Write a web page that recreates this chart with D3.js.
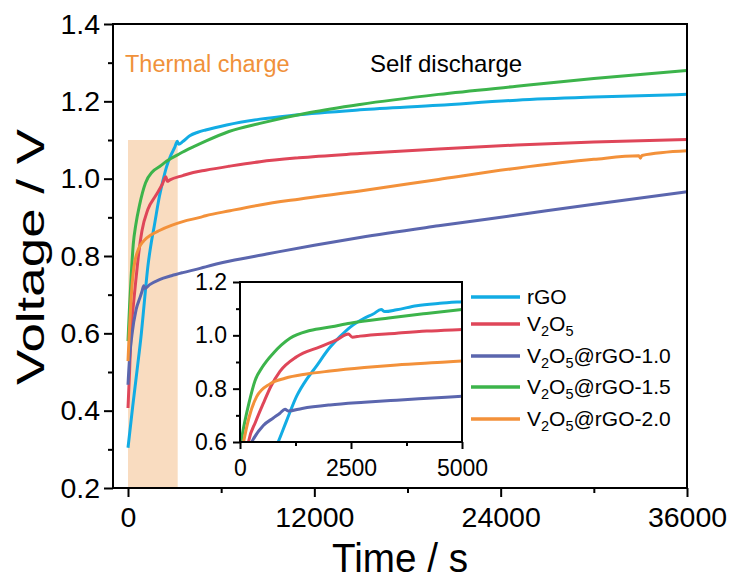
<!DOCTYPE html>
<html>
<head>
<meta charset="utf-8">
<script src="https://cdn.jsdelivr.net/npm/d3@7"></script>
<style>
  body { margin: 0; background: #fff; }
  text { font-family: "Liberation Sans", Arial, sans-serif; }
</style>
</head>
<body>
<svg id="chart" width="732" height="583"></svg>
<script>
// Voltage (V) against time (s) for each electrode: [time, voltage]
const rGO = [[0,0.304],[300,0.41],[600,0.51],[860,0.6],[1050,0.68],[1276,0.772],[1500,0.835],[1680,0.875],[2027,0.955],[2250,0.995],[2477,1.03],[2777,1.062],[3000,1.08],[3180,1.097],[3260,1.089],[3529,1.096],[3979,1.111],[4500,1.12],[5000,1.126],[6355,1.139],[8500,1.154],[10650,1.164],[14940,1.178],[20000,1.19],[25030,1.203],[30000,1.211],[36000,1.218]];
const V2O5 = [[0,0.407],[100,0.5],[190,0.6],[350,0.675],[525,0.745],[700,0.81],[900,0.865],[1276,0.92],[1800,0.957],[2200,0.985],[2440,1.005],[2530,0.993],[2700,0.997],[3529,1.008],[4207,1.016],[5000,1.022],[6500,1.032],[8500,1.044],[11000,1.054],[14940,1.065],[20000,1.077],[25030,1.087],[30000,1.095],[36000,1.101]];
const V2O5_rGO_10 = [[0,0.467],[100,0.535],[250,0.595],[525,0.662],[750,0.69],[900,0.708],[1014,0.723],[1089,0.716],[1400,0.726],[2027,0.739],[2800,0.749],[3529,0.757],[4640,0.768],[5000,0.772],[6570,0.787],[8930,0.805],[12000,0.828],[14940,0.848],[20000,0.878],[25030,0.906],[30000,0.934],[36000,0.966]];
const V2O5_rGO_15 = [[0,0.58],[100,0.67],[200,0.745],[338,0.83],[500,0.88],[750,0.933],[1126,0.989],[1577,1.018],[2061,1.032],[2477,1.045],[3349,1.065],[4200,1.082],[5000,1.097],[6500,1.122],[8500,1.143],[11720,1.171],[14940,1.192],[20000,1.218],[25030,1.239],[30000,1.259],[36000,1.28]];
const V2O5_rGO_20 = [[0,0.528],[80,0.6],[200,0.69],[376,0.77],[676,0.818],[1014,0.839],[1500,0.855],[2027,0.866],[2800,0.879],[3529,0.889],[4640,0.9],[5000,0.904],[6570,0.917],[8500,0.932],[11000,0.947],[14940,0.968],[20000,0.998],[25030,1.027],[30000,1.05],[32900,1.059],[33000,1.053],[33100,1.06],[36000,1.072]];

const seriesData = [rGO, V2O5, V2O5_rGO_10, V2O5_rGO_15, V2O5_rGO_20];
const seriesNames = ["rGO", "V2O5", "V2O5@rGO-1.0", "V2O5@rGO-1.5", "V2O5@rGO-2.0"];
const seriesColors = ["#12ace4", "#df4659", "#5b66ae", "#3cb44b", "#f3913a"];

// Axis ticks
const mainXTicks = [0, 12000, 24000, 36000];
const mainXMinor = [6000, 18000, 30000];
const mainYTicks = [0.2, 0.4, 0.6, 0.8, 1.0, 1.2, 1.4];
const mainYMinor = [0.3, 0.5, 0.7, 0.9, 1.1, 1.3];
const insetXTicks = [0, 2500, 5000];
const insetXMinor = [1250, 3750];
const insetYTicks = [0.6, 0.8, 1.0, 1.2];
const insetYMinor = [0.7, 0.9, 1.1];

// Thermal-charge window: [start time, end time, top voltage]
const thermalWindow = [0, 3200, 1.1];

const svg = d3.select("#chart");
const mainX = d3.scaleLinear().domain([-966, 36000]).range([113, 687]);
const mainY = d3.scaleLinear().domain([0.2, 1.4]).range([488, 24]);
const insetX = d3.scaleLinear().domain([0, 5000]).range([240, 462]);
const insetY = d3.scaleLinear().domain([0.6, 1.2]).range([442, 282]);

const defs = svg.append("defs");
defs.append("clipPath").attr("id", "clipMain").append("rect")
  .attr("x", 113).attr("y", 24).attr("width", 574).attr("height", 464);
defs.append("clipPath").attr("id", "clipInset").append("rect")
  .attr("x", 240).attr("y", 282).attr("width", 222).attr("height", 160);

// Shaded thermal-charge window
svg.append("rect")
  .attr("x", mainX(thermalWindow[0]))
  .attr("y", mainY(thermalWindow[2]))
  .attr("width", mainX(thermalWindow[1]) - mainX(thermalWindow[0]))
  .attr("height", mainY(0.2) - mainY(thermalWindow[2]))
  .attr("fill", "#f9dcc0");

function drawLines(g, xs, ys, clip, width) {
  const line = d3.line().x(d => xs(d[0])).y(d => ys(d[1])).curve(d3.curveMonotoneX);
  g.append("g").attr("clip-path", `url(#${clip})`)
    .selectAll("path").data(seriesData).join("path")
    .attr("d", line)
    .attr("fill", "none")
    .attr("stroke", (d, i) => seriesColors[i])
    .attr("stroke-width", width)
    .attr("stroke-linejoin", "round");
}

function styleAxis(g, fontSize) {
  g.select(".domain").remove();
  g.selectAll(".tick line").attr("stroke", "#000").attr("stroke-width", 2);
  g.selectAll(".tick text").attr("fill", "#000").attr("font-size", fontSize)
    .style("font-family", '"Liberation Sans", Arial, sans-serif');
}

function drawAxes(xs, ys, xt, xm, yt, ym, opt) {
  const [x0, x1] = xs.range();
  const [y0, y1] = ys.range();
  const gx = svg.append("g").attr("transform", `translate(0,${y0})`)
    .call(d3.axisBottom(xs).tickValues(xt).tickSize(opt.major).tickPadding(opt.xPad).tickFormat(d3.format("d")));
  styleAxis(gx, opt.font);
  const gxm = svg.append("g").attr("transform", `translate(0,${y0})`)
    .call(d3.axisBottom(xs).tickValues(xm).tickSize(opt.minor).tickFormat(""));
  styleAxis(gxm, opt.font);
  const gy = svg.append("g").attr("transform", `translate(${x0},0)`)
    .call(d3.axisLeft(ys).tickValues(yt).tickSize(opt.major).tickPadding(opt.yPad).tickFormat(d3.format(".1f")));
  styleAxis(gy, opt.font);
  const gym = svg.append("g").attr("transform", `translate(${x0},0)`)
    .call(d3.axisLeft(ys).tickValues(ym).tickSize(opt.minor).tickFormat(""));
  styleAxis(gym, opt.font);
  svg.append("rect")
    .attr("x", x0).attr("y", y1).attr("width", x1 - x0).attr("height", y0 - y1)
    .attr("fill", "none").attr("stroke", "#000").attr("stroke-width", 2);
}

// Main panel
drawLines(svg, mainX, mainY, "clipMain", 3);
drawAxes(mainX, mainY, mainXTicks, mainXMinor, mainYTicks, mainYMinor,
  { major: 9, minor: 5, xPad: 10, yPad: 4, font: 28.5 });

// Annotations
svg.append("text").attr("x", 125).attr("y", 72).attr("font-size", 23.5)
  .attr("fill", "#f0913a").text("Thermal charge");
svg.append("text").attr("x", 370).attr("y", 72).attr("font-size", 24)
  .attr("fill", "#000").text("Self discharge");

// Axis titles
svg.append("text").attr("x", 400).attr("y", 572).attr("font-size", 40)
  .attr("text-anchor", "middle").attr("fill", "#000")
  .attr("textLength", 136).attr("lengthAdjust", "spacingAndGlyphs")
  .text("Time / s");
svg.append("text").attr("transform", "translate(44,257) rotate(-90)")
  .attr("font-size", 38).attr("text-anchor", "middle").attr("fill", "#000")
  .attr("textLength", 256).attr("lengthAdjust", "spacingAndGlyphs")
  .text("Voltage / V");

// Inset panel
svg.append("rect").attr("x", 240).attr("y", 282).attr("width", 222).attr("height", 160).attr("fill", "#fff");
drawLines(svg, insetX, insetY, "clipInset", 3);
drawAxes(insetX, insetY, insetXTicks, insetXMinor, insetYTicks, insetYMinor,
  { major: 7, minor: 4, xPad: 11, yPad: 6, font: 23 });

// Legend (V2O5 digits drawn as subscripts)
const legendRows = [297, 324, 356, 387, 419];
const legend = svg.append("g");
seriesNames.forEach((name, i) => {
  const ly = legendRows[i];
  legend.append("line").attr("x1", 471).attr("x2", 520).attr("y1", ly).attr("y2", ly)
    .attr("stroke", seriesColors[i]).attr("stroke-width", 3.5);
  const t = legend.append("text").attr("x", 527).attr("y", ly + 7).attr("font-size", 21).attr("fill", "#000");
  const m = name.match(/^V2O5(.*)$/);
  if (m) {
    t.append("tspan").text("V");
    t.append("tspan").attr("font-size", 14.5).attr("dy", 5).text("2");
    t.append("tspan").attr("dy", -5).text("O");
    t.append("tspan").attr("font-size", 14.5).attr("dy", 5).text("5");
    if (m[1]) t.append("tspan").attr("dy", -5).text(m[1]);
  } else {
    t.text(name);
  }
});
</script>
</body>
</html>
